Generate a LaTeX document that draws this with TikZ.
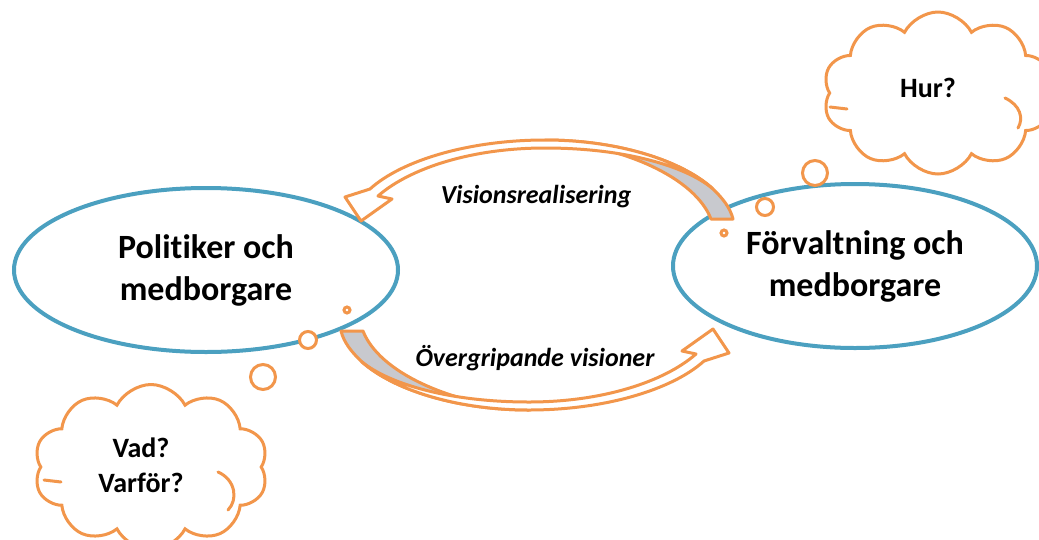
\documentclass[tikz,border=0pt]{standalone}
\usepackage{fontspec}
\setmainfont{Carlito}[RawFeature=-liga]
\usetikzlibrary{shapes.geometric,shapes.symbols}
\definecolor{eblue}{RGB}{75,160,192}
\definecolor{aorange}{RGB}{242,150,75}
\definecolor{agray}{RGB}{200,201,206}
\tikzset{
  bigell/.style={ellipse, draw=eblue, line width=4pt, fill=white, inner sep=0pt, align=center,
    font=\fontsize{34}{42}\selectfont\bfseries},
  armlabel/.style={font=\fontsize{26}{30}\selectfont\bfseries\itshape, inner sep=0pt},
  bubble/.style={circle, draw=aorange, line width=3pt, fill=white, inner sep=0pt},
  thought/.style={cloud, draw=aorange, line width=3pt, fill=white, cloud puffs=10, cloud puff arc=125, inner sep=0pt},
  thoughttext/.style={font=\fontsize{28}{35}\selectfont\bfseries, align=center, inner sep=0pt},
  arrowline/.style={draw=aorange, line width=3pt, line join=round},
  curl/.style={draw=aorange, line width=3pt, line cap=round},
}
\begin{document}
\begin{tikzpicture}[x=1pt,y=-1pt]
\useasboundingbox[fill=white] (0,0) rectangle (1039,539);

% main ellipses
\node[bigell, minimum width=384pt, minimum height=164pt] (pol) at (206,270) {Politiker och\\medborgare};
\node[bigell, minimum width=364pt, minimum height=164pt] (forv) at (855,266) {Förvaltning och\\medborgare};

% upper curved arrow (Visionsrealisering)
\begin{scope}
  \path[arrowline, fill=agray] (733,219) .. controls (730.25,208) and (723.06,198.56) .. (712.34,188.34)
     .. controls (680.19,159.69) and (616.25,140) .. (545,140)
     .. controls (625,146) and (695,178) .. (711,219) -- cycle;
  \path[arrowline, fill=white] (712.34,188.34) .. controls (680.19,159.69) and (616.25,140) .. (545,140)
     .. controls (470,140) and (402,160) .. (370,189) -- (345,197) -- (361,221) -- (392,199) -- (378,196)
     .. controls (410,168) and (472,148) .. (545,148)
     .. controls (625,148) and (685,166) .. (712.34,188.34) -- cycle;
\end{scope}
% lower curved arrow (Övergripande visioner)
\begin{scope}[rotate around={180:(537,275)}]
  \path[arrowline, fill=agray] (733,219) .. controls (730.25,208) and (723.06,198.56) .. (712.34,188.34)
     .. controls (680.19,159.69) and (616.25,140) .. (545,140)
     .. controls (625,146) and (695,178) .. (711,219) -- cycle;
  \path[arrowline, fill=white] (712.34,188.34) .. controls (680.19,159.69) and (616.25,140) .. (545,140)
     .. controls (470,140) and (402,160) .. (370,189) -- (345,197) -- (361,221) -- (392,199) -- (378,196)
     .. controls (410,168) and (472,148) .. (545,148)
     .. controls (625,148) and (685,166) .. (712.34,188.34) -- cycle;
\end{scope}

\node[armlabel] (vis) at (536,197) {Visionsrealisering};
\node[armlabel] (overg) at (535,358) {Övergripande visioner};

% thought bubbles left
\node[bubble, minimum size=6pt] (lb1) at (347,310) {};
\node[bubble, minimum size=17pt] (lb2) at (308,340) {};
\node[bubble, minimum size=25pt] (lb3) at (263,377) {};
\node[thought, minimum width=234pt, minimum height=165pt] (lcloud) at (151,467) {};
\draw[curl] (218,472) .. controls (236,480) and (238,500) .. (228,510);
\draw[curl] (44,480) -- (61,482);
\node[thoughttext] (ltext) at (141,465) {Vad?\\Varför?};

% thought bubbles right
\node[bubble, minimum size=6pt] (rb1) at (724,233) {};
\node[bubble, minimum size=17pt] (rb2) at (765,207) {};
\node[bubble, minimum size=25pt] (rb3) at (815,173) {};
\node[thought, minimum width=230pt, minimum height=162pt] (rcloud) at (938,93) {};
\draw[curl] (1005,98) .. controls (1020,105) and (1024,118) .. (1018,128);
\draw[curl] (830,107) -- (847,109);
\node[thoughttext] (rtext) at (928,88) {Hur?};
\end{tikzpicture}
\end{document}
